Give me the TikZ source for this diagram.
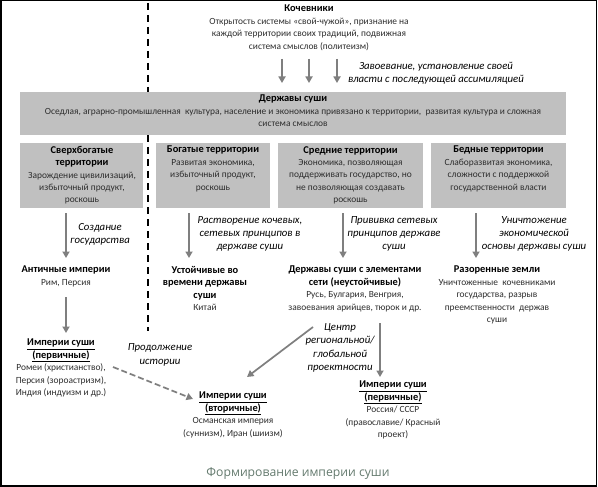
\documentclass[tikz,border=0pt]{standalone}
\usepackage{fontspec}
\setmainfont{Carlito}
\newfontfamily\capfont{Open Sans}
\usetikzlibrary{arrows.meta}
\definecolor{boxgray}{RGB}{192,192,192}
\definecolor{arrgray}{RGB}{127,127,127}
\definecolor{capcol}{RGB}{100,122,110}
\definecolor{txtcol}{RGB}{45,45,45}
\newcommand{\hd}[1]{{\color{black}\bfseries\fontsize{10.4}{13}\selectfont #1}}
\newcommand{\hdu}[1]{{\color{black}\bfseries\fontsize{10.4}{13}\selectfont\underline{#1}}}
\begin{document}
\begin{tikzpicture}[x=1pt,y=-1pt,
  txt/.style={align=center, inner sep=0pt, font=\fontsize{9.4}{12.4}\selectfont, text=txtcol},
  lbl/.style={align=center, inner sep=0pt, font=\itshape\fontsize{10.8}{13.2}\selectfont, text=black},
  gbox/.style={fill=boxgray, draw=none, inner sep=0pt},
  conn/.style={draw=arrgray, line width=1.7pt, -{Triangle[length=6.5pt,width=7pt]}},
  dconn/.style={conn, dash pattern=on 6pt off 3pt},
  divider/.style={draw=black, line width=1.8pt, dash pattern=on 7pt off 5pt},
  frame/.style={draw=black, line width=1.5pt}]
\useasboundingbox (0,0) rectangle (598,487);
\fill[white] (0,0) rectangle (598,487);

% divider
\coordinate (dtop) at (148,3);
\coordinate (dbot) at (148,331);
\draw[divider] (dtop) -- (dbot);

% nomads
\node[txt, anchor=north] (nom) at (309,5) {\hd{Кочевники}\\Открытость системы «свой-чужой», признание на\\каждой территории своих традиций, подвижная\\система смыслов (политеизм)};
\coordinate (k1s) at (282,59); \coordinate (k1e) at (282,83);
\coordinate (k2s) at (309,59); \coordinate (k2e) at (309,83);
\coordinate (k3s) at (337,59); \coordinate (k3e) at (337,83);
\draw[conn] (k1s) -- (k1e);
\draw[conn] (k2s) -- (k2e);
\draw[conn] (k3s) -- (k3e);
\node[lbl] (lk) at (436,73) {Завоевание, установление своей\\власти с последующей ассимиляцией};

% top box
\node[gbox, anchor=north west, minimum width=546, minimum height=43] (top) at (20,92) {};
\node[txt, anchor=north] (toptxt) at (293,95) {\hd{Державы суши}\\Оседлая, аграрно-промышленная\ \ культура, население и экономика привязано к территории,\ \ развитая культура и сложная\\система смыслов};

% four boxes
\node[gbox, anchor=north west, minimum width=123, minimum height=65] (b1) at (20,143) {};
\node[gbox, anchor=north west, minimum width=114, minimum height=65] (b2) at (156,143) {};
\node[gbox, anchor=north west, minimum width=145, minimum height=65] (b3) at (278,143) {};
\node[gbox, anchor=north west, minimum width=135, minimum height=65] (b4) at (431,143) {};
\node[txt, anchor=north] (t1) at (82,146) {\hd{Сверхбогатые}\\\hd{территории}\\Зарождение цивилизаций,\\избыточный продукт,\\роскошь};
\node[txt, anchor=north] (t2) at (213,146) {\hd{Богатые территории}\\Развитая экономика,\\избыточный продукт,\\роскошь};
\node[txt, anchor=north] (t3) at (350.5,146) {\hd{Средние территории}\\Экономика, позволяющая\\поддерживать государство, но\\не позволяющая создавать\\роскошь};
\node[txt, anchor=north] (t4) at (498.5,146) {\hd{Бедные территории}\\Слаборазвитая экономика,\\сложности с поддержкой\\государственной власти};

% arrows row 2
\coordinate (a1s) at (66,213);  \coordinate (a1e) at (66,258);
\coordinate (a2s) at (189,213); \coordinate (a2e) at (189,258);
\coordinate (a3s) at (343,213); \coordinate (a3e) at (343,258);
\coordinate (a4s) at (476,213); \coordinate (a4e) at (476,258);
\draw[conn] (a1s) -- (a1e);
\draw[conn] (a2s) -- (a2e);
\draw[conn] (a3s) -- (a3e);
\draw[conn] (a4s) -- (a4e);
\node[lbl] (l1) at (100,234) {Создание\\государства};
\node[lbl] (l2) at (250,234) {Растворение кочевых,\\сетевых принципов в\\державе суши};
\node[lbl] (l3) at (394,234) {Прививка сетевых\\принципов державе\\суши};
\node[lbl] (l4) at (534,234) {Уничтожение\\экономической\\основы державы суши};

% row 3
\node[txt, anchor=north] (n1) at (66,266) {\hd{Античные империи}\\Рим, Персия};
\node[txt, anchor=north] (n2) at (205,266) {\hd{Устойчивые во}\\\hd{времени державы}\\\hd{суши}\\Китай};
\node[txt, anchor=north] (n3) at (355,266) {\hd{Державы суши с элементами}\\\hd{сети (неустойчивые)}\\Русь, Булгария, Венгрия,\\завоевания арийцев, тюрок и др.};
\node[txt, anchor=north] (n4) at (497,266) {\hd{Разоренные земли}\\Уничтоженные\ \ кочевниками\\государства, разрыв\\преемственности\ \ держав\\суши};

% row 4
\node[txt, anchor=north] (e1) at (61,339) {\hdu{Империи суши}\\\hdu{(первичные)}\\Ромеи (христианство),\\Персия (зороастризм),\\Индия (индуизм и др.)};
\node[txt, anchor=north] (e2) at (233,392) {\hdu{Империи суши}\\\hdu{(вторичные)}\\Османская империя\\(суннизм), Иран (шиизм)};
\node[txt, anchor=north] (e3) at (393,381) {\hdu{Империи суши}\\\hdu{(первичные)}\\Россия/ СССР\\(православие/\ Красный\\проект)};

\coordinate (c1s) at (66,297);  \coordinate (c1e) at (66,333);
\coordinate (c2s) at (113,367); \coordinate (c2e) at (193,399);
\coordinate (c3s) at (313,327); \coordinate (c3e) at (247,377);
\coordinate (c4s) at (380,323); \coordinate (c4e) at (380,377);
\draw[conn] (c1s) -- (c1e);
\draw[dconn] (c2s) -- (c2e);
\draw[conn] (c3s) -- (c3e);
\draw[conn] (c4s) -- (c4e);
\node[lbl] (l5) at (160,355) {Продолжение\\истории};
\node[lbl] (l6) at (340,348) {Центр\\региональной/\\глобальной\\проектности};

% caption
\node[inner sep=0pt, text=capcol, font=\capfont\fontsize{12.2}{14}\selectfont] (cap) at (298,474) {Формирование империи суши};

% frame
\draw[frame] (0.75,0.75) rectangle (596.5,486);
\end{tikzpicture}
\end{document}
